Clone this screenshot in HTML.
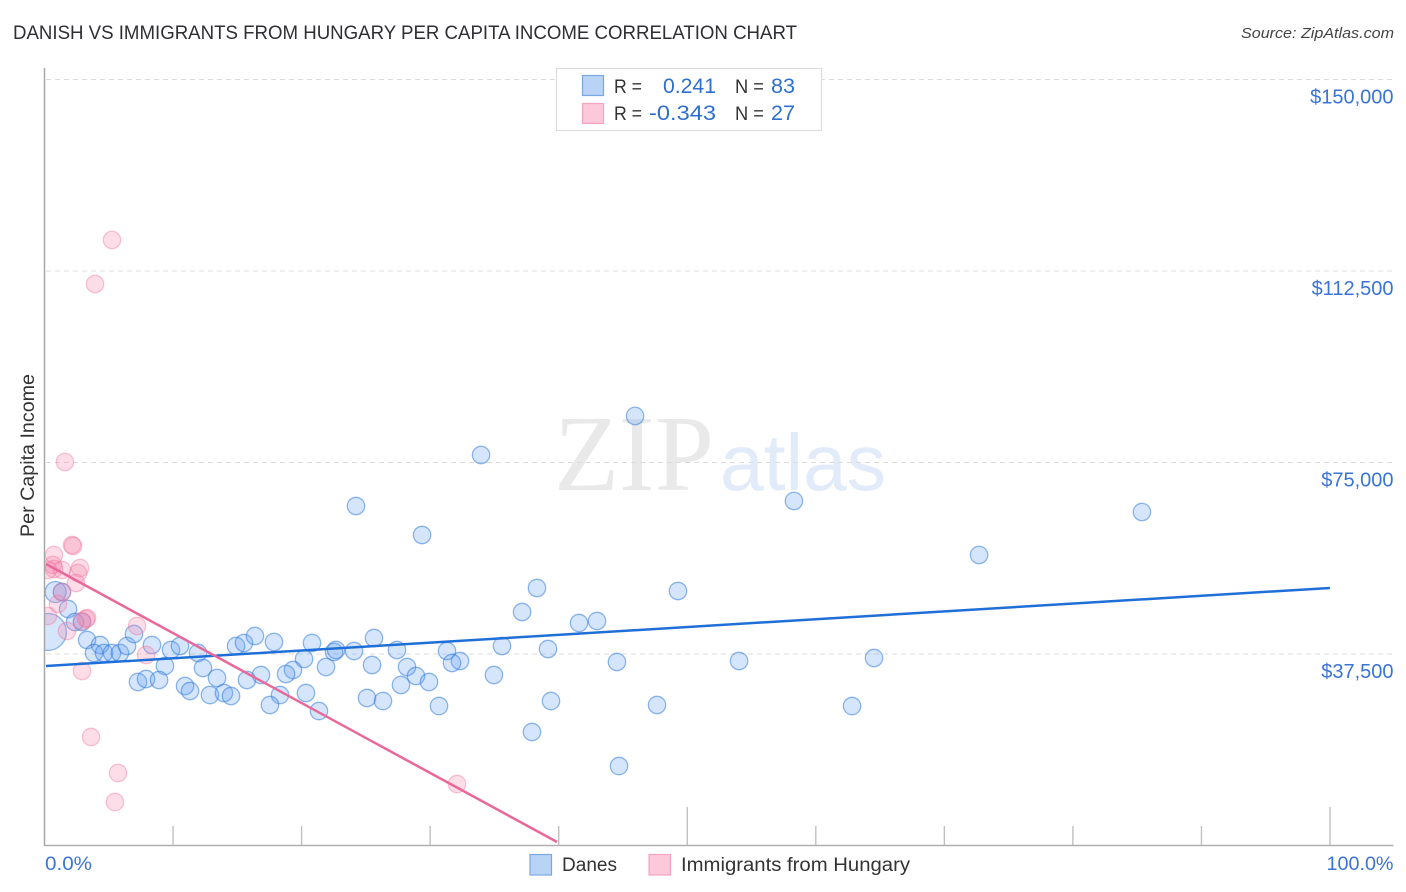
<!DOCTYPE html>
<html lang="en">
<head>
<meta charset="utf-8">
<title>Danish vs Immigrants from Hungary Per Capita Income Correlation Chart</title>
<style>
html,body{margin:0;padding:0;background:#fff;width:1406px;height:892px;overflow:hidden}
svg{display:block;font-family:"Liberation Sans",sans-serif}
</style>
</head>
<body>
<svg id="chart" xmlns="http://www.w3.org/2000/svg" width="1406" height="892" viewBox="0 0 1406 892">
  <defs><clipPath id="plot-clip"><rect x="45" y="68" width="1350" height="777"/></clipPath></defs>
  <rect width="1406" height="892" fill="#fff"/>
  <text x="13" y="39" font-size="19" fill="#2e2e33" textLength="784" lengthAdjust="spacingAndGlyphs">DANISH VS IMMIGRANTS FROM HUNGARY PER CAPITA INCOME CORRELATION CHART</text>
  <text x="1394" y="38" font-size="15" font-style="italic" fill="#444" text-anchor="end" textLength="153" lengthAdjust="spacingAndGlyphs">Source: ZipAtlas.com</text>
  <g>
    <text x="554" y="490" font-family="'Liberation Serif',serif" font-size="108" fill="#e9e9e9" textLength="160" lengthAdjust="spacingAndGlyphs">ZIP</text>
    <text x="720" y="490" font-size="80" fill="#e2ebf9" textLength="166" lengthAdjust="spacingAndGlyphs">atlas</text>
  </g>
  <g id="grid"></g>
  <g id="axes"></g>
  <g id="danes-points" clip-path="url(#plot-clip)"></g>
  <g id="hungary-points" clip-path="url(#plot-clip)"></g>
  <g id="trends"></g>
  <text transform="translate(34,455.5) rotate(-90)" font-size="19" fill="#333" text-anchor="middle" textLength="163" lengthAdjust="spacingAndGlyphs">Per Capita Income</text>
  <g id="y-labels"></g>
  <text x="45" y="870" font-size="19" fill="#3b74d6" textLength="47" lengthAdjust="spacingAndGlyphs">0.0%</text>
  <text x="1393.5" y="870" font-size="19" fill="#3b74d6" text-anchor="end" textLength="67" lengthAdjust="spacingAndGlyphs">100.0%</text>

  <g>
    <rect x="556.5" y="68.5" width="265" height="62" fill="#fff" stroke="#dcdcdc" stroke-width="1.2"/>
    <rect x="582.5" y="75.5" width="21" height="20" fill="#b9d3f7" stroke="#7ba8e3" stroke-width="1.2"/>
    <rect x="582.5" y="103.5" width="21" height="20" fill="#fdc8d9" stroke="#f3a5bf" stroke-width="1.2"/>
    <text x="614" y="93" font-size="19" fill="#333" textLength="28" lengthAdjust="spacingAndGlyphs">R =</text>
    <text x="716" y="93" font-size="21" fill="#2f6fd0" text-anchor="end" textLength="53" lengthAdjust="spacingAndGlyphs">0.241</text>
    <text x="735" y="93" font-size="19" fill="#333" textLength="29" lengthAdjust="spacingAndGlyphs">N =</text>
    <text x="771" y="93" font-size="21" fill="#2f6fd0" textLength="24" lengthAdjust="spacingAndGlyphs">83</text>
    <text x="614" y="120" font-size="19" fill="#333" textLength="28" lengthAdjust="spacingAndGlyphs">R =</text>
    <text x="716" y="120" font-size="21" fill="#2f6fd0" text-anchor="end" textLength="67" lengthAdjust="spacingAndGlyphs">-0.343</text>
    <text x="735" y="120" font-size="19" fill="#333" textLength="29" lengthAdjust="spacingAndGlyphs">N =</text>
    <text x="771" y="120" font-size="21" fill="#2f6fd0" textLength="24" lengthAdjust="spacingAndGlyphs">27</text>
  </g>

  <g>
    <rect x="530" y="854.5" width="21.5" height="20.5" fill="#b9d3f7" stroke="#7ba8e3" stroke-width="1.2"/>
    <text x="562" y="871" font-size="19" fill="#333" textLength="55" lengthAdjust="spacingAndGlyphs">Danes</text>
    <rect x="649" y="854.5" width="21.5" height="20.5" fill="#fdc8d9" stroke="#f3a5bf" stroke-width="1.2"/>
    <text x="681" y="871" font-size="19" fill="#333" textLength="229" lengthAdjust="spacingAndGlyphs">Immigrants from Hungary</text>
  </g>
</svg>
<script>
const yTickValues = [37500, 75000, 112500, 150000];
const yTickLabels = ["$37,500", "$75,000", "$112,500", "$150,000"];
const xTickValues = [10, 20, 30, 40, 50, 60, 70, 80, 90, 100];
const xMajorTicks = [50, 100];

const danesPct = [0.27,0.86,1.36,1.83,2.37,2.92,3.31,4.32,3.85,4.63,5.25,5.87,6.42,6.96,8.36,9.84,10.54,11.94,9.37,12.33,7.27,7.9,8.91,10.93,11.32,12.87,14.9,15.52,16.37,17.85,20.81,22.52,22.68,20.19,24.08,25.63,27.42,19.33,18.79,21.9,25.48,28.2,28.9,29.91,27.73,16.84,15.75,13.42,13.96,14.51,18.32,20.34,17.54,21.35,25.09,26.33,30.69,38.31,37.15,41.58,42.98,31.31,32.32,31.7,35.59,39.17,44.53,34.96,39.4,37.92,45.94,33.96,24.23,29.37,58.3,85.37,72.7,49.28,54.03,64.53,47.65,62.82,44.69];
const danesIncome = [41810,49643,49643,46314,43768,43768,40243,39264,37697,37697,37697,37697,39068,41418,39264,38285,39068,37697,35152,34760,32018,32606,32410,31235,30256,29472,39068,39656,41026,39851,39656,37893,38285,36522,38089,40635,38285,34368,33585,34956,35347,34956,33193,32018,31431,33389,32410,32802,29864,29277,29472,29864,27514,26339,28885,28297,27318,50426,45726,43572,43964,38089,36131,35739,39068,38481,35935,33389,28297,22227,84109,76472,66484,60805,67464,65309,56889,49839,36131,36718,27514,27318,15568];
const danesWeight = [4.5,1.46,1];

const hungaryPct = [2.14,2.22,0.74,0.66,0.27,1.36,0.74,2.76,2.61,2.45,1.36,1.05,0.27,1.75,3.31,3.23,2.92,7.2,7.9,2.92,5.25,3.93,1.59,3.62,5.72,5.48,32.09];
const hungaryIncome = [58847,58651,56889,54930,53951,53951,54147,54343,53364,51405,49643,47293,44943,42006,44551,44355,43964,42984,37305,34172,118575,109959,75101,21248,14198,8519,12044];

const danesTrendPct = [0.12, 100];
const danesTrendIncome = [35150, 50430];
const hungaryTrendPct = [0.12, 39.87];
const hungaryTrendIncome = [55130, 690];

const NS = "http://www.w3.org/2000/svg";
function xScale(p){ return 44.5 + p * 12.855; }
function yScale(v){ return 845.5 - v * 191.5 / 37500; }
function make(tag, attrs, parent){
  const el = document.createElementNS(NS, tag);
  for (const k in attrs) el.setAttribute(k, attrs[k]);
  parent.appendChild(el);
  return el;
}

const grid = document.getElementById("grid");
const axes = document.getElementById("axes");
const yLabels = document.getElementById("y-labels");

yTickValues.concat().forEach(function(v, i){
  const line = make("line", {x1:46, x2:1393, y1:yScale(v), y2:yScale(v), stroke:"#dcdcdc", "stroke-width":1, "stroke-dasharray":"5 4"}, grid);
  
  
  const label = make("text", {x:1393.5, y:yScale(v) + 24, "font-size":20, fill:"#3b74d6", "text-anchor":"end"}, yLabels);
  
  
  label.textContent = yTickLabels[i];
});

const yAxis = make("line", {x1:44.5, x2:44.5, y1:68, y2:846, stroke:"#a8a8a8", "stroke-width":1.5}, axes);


const xAxis = make("line", {x1:44, x2:1393.5, y1:845.5, y2:845.5, stroke:"#b0b0b0", "stroke-width":1.5}, axes);



xTickValues.forEach(function(t){
  const top = xMajorTicks.indexOf(t) >= 0 ? 807 : 826;
  const tick = make("line", {x1:xScale(t), x2:xScale(t), y1:top, y2:845, stroke:"#c0c0c0", "stroke-width":1.4}, axes);
  
  
});

const danesGroup = document.getElementById("danes-points");
danesPct.forEach(function(p, i){
  const w = danesWeight[i] || 1;
  const c = make("circle", {cx:xScale(p), cy:yScale(danesIncome[i]), r:8.7 * Math.sqrt(w), fill:"rgba(100,160,240,0.27)", stroke:"rgba(45,120,220,0.52)", "stroke-width":1.3}, danesGroup);
  
  
});

const hungaryGroup = document.getElementById("hungary-points");
hungaryPct.forEach(function(p, i){
  const c = make("circle", {cx:xScale(p), cy:yScale(hungaryIncome[i]), r:8.7, fill:"rgba(245,130,170,0.27)", stroke:"rgba(240,120,160,0.42)", "stroke-width":1.3}, hungaryGroup);
  
  
});

const trends = document.getElementById("trends");
const blueTrend = make("line", {x1:xScale(danesTrendPct[0]), x2:xScale(danesTrendPct[1]), y1:yScale(danesTrendIncome[0]), y2:yScale(danesTrendIncome[1]), stroke:"#1f6fd8", "stroke-width":2.5}, trends);


const pinkTrend = make("line", {x1:xScale(hungaryTrendPct[0]), x2:xScale(hungaryTrendPct[1]), y1:yScale(hungaryTrendIncome[0]), y2:yScale(hungaryTrendIncome[1]), stroke:"#e8689a", "stroke-width":2.5}, trends);


</script>
</body>
</html>
